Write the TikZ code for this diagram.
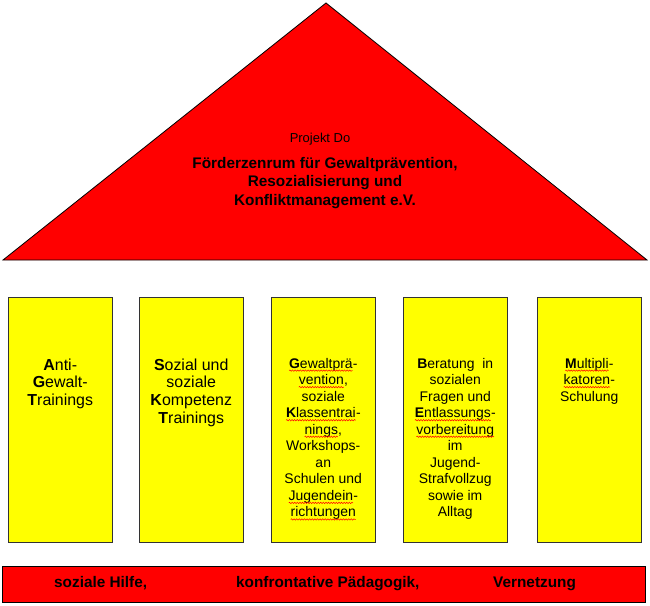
\documentclass[tikz,border=0pt]{standalone}
\usepackage{fontspec}
\setmainfont{Liberation Sans}
\usetikzlibrary{decorations.pathmorphing}
\newcommand\rw[1]{\tikz[baseline=(w.base),x=1bp,y=1bp]{\node[inner sep=0pt,outer sep=0pt,anchor=base west,draw=none,fill=none] (w) at (0,0) {#1};
  \draw[red, line width=0.5bp, decorate, decoration={snake, amplitude=0.7bp, segment length=2.6bp}] ([yshift=-2.6bp]w.base west) -- ([yshift=-2.6bp]w.base east);}}
\definecolor{roofred}{RGB}{255,0,0}
\definecolor{pillaryellow}{RGB}{255,255,0}
\begin{document}
\begin{tikzpicture}[x=1bp,y=-1bp,
  roof/.style={draw=black, fill=roofred, line width=0.8bp},
  pillar/.style={draw=black!80, fill=pillaryellow, line width=1bp, minimum width=103.5bp, minimum height=245bp, anchor=north west, inner sep=0},
  ptext/.style={anchor=base, inner sep=0, align=center},
  big/.style={font=\fontsize{16}{18}\selectfont},
  small/.style={font=\fontsize{14}{16.6}\selectfont},
  base/.style={draw=black, fill=roofred, line width=1bp, minimum width=643bp, minimum height=36bp, anchor=north west, inner sep=0},
  basetext/.style={anchor=base west, inner sep=0, font=\fontsize{15.4}{18}\selectfont\bfseries}
]
\useasboundingbox (0,0) rectangle (650,606);
% roof
\coordinate (rl) at (3,260);
\coordinate (rt) at (326,3);
\coordinate (rr) at (647,260);
\draw[roof] (rl) -- (rt) -- (rr) -- cycle;
\node[inner sep=0, anchor=base, font=\fontsize{13}{15}\selectfont] (proj) at (320,143) {Projekt Do};
\node[inner sep=0, anchor=base, font=\fontsize{15.4}{18.5}\selectfont\bfseries] (title) at (325,168.5)
  {\begin{tabular}[t]{@{}c@{}}Förderzenrum für Gewaltprävention,\\Resozialisierung und\\Konfliktmanagement e.V.\end{tabular}};
% pillars
\node[pillar] (p1) at (8,297) {};
\node[pillar] (p2) at (139,297) {};
\node[pillar] (p3) at (271,297) {};
\node[pillar] (p4) at (403,297) {};
\node[pillar] (p5) at (537,297) {};
\node[ptext,big] (t1) at (p1.center |- 0,370)
  {\begin{tabular}[t]{@{}c@{}}\textbf{A}nti-\\\textbf{G}ewalt-\\\textbf{T}rainings\end{tabular}};
\node[ptext,big] (t2) at (p2.center |- 0,370)
  {\begin{tabular}[t]{@{}c@{}}\textbf{S}ozial und\\soziale\\\textbf{K}ompetenz\\\textbf{T}rainings\end{tabular}};
\node[ptext,small] (t3) at (p3.center |- 0,368)
  {\begin{tabular}[t]{@{}c@{}}\rw{\textbf{G}ewaltprä}-\\\rw{vention},\\soziale\\\rw{\textbf{K}lassentrai}-\\\rw{nings},\\Workshops-\\an\\Schulen und\\\rw{Jugendein}-\\\rw{richtungen}\end{tabular}};
\node[ptext,small] (t4) at (p4.center |- 0,368)
  {\begin{tabular}[t]{@{}c@{}}\textbf{B}eratung\ \ in\\sozialen\\Fragen und\\\rw{\textbf{E}ntlassungs}-\\\rw{vorbereitung}\\im\\Jugend-\\Strafvollzug\\sowie im\\Alltag\end{tabular}};
\node[ptext,small] (t5) at (p5.center |- 0,368)
  {\begin{tabular}[t]{@{}c@{}}\rw{\textbf{M}ultipli}-\\\rw{katoren}-\\Schulung\end{tabular}};
% base bar
\node[base] (bar) at (2,566) {};
\node[basetext] (b1) at (54,587) {soziale Hilfe,};
\node[basetext] (b2) at (236,587) {konfrontative Pädagogik,};
\node[basetext] (b3) at (493,587) {Vernetzung};
\end{tikzpicture}
\end{document}
